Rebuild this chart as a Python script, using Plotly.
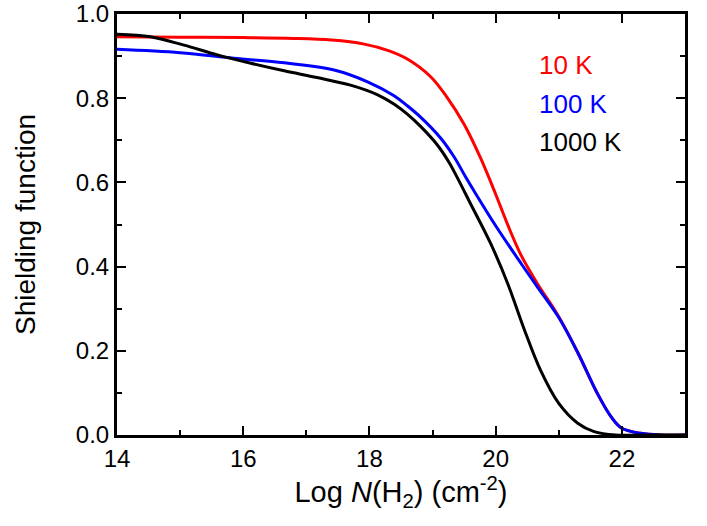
import plotly.graph_objects as go

# 10 K
x_10K = [14, 15, 16, 16.8, 17.4, 17.9, 18.3, 18.6, 18.97, 19.23, 19.5, 19.76, 20.0, 20.2, 20.4,
         20.66, 21.0, 21.3, 21.61, 21.83, 22.0, 22.3, 22.6, 23]
y_10K = [0.946, 0.945, 0.944, 0.942, 0.938, 0.929, 0.913, 0.893, 0.851, 0.802, 0.738, 0.658,
         0.572, 0.496, 0.428, 0.360, 0.281, 0.196, 0.099, 0.043, 0.016, 0.004, 0.0, 0.0]

# 100 K
x_100K = [14, 15, 15.85, 16.65, 17.44, 17.97, 18.39, 18.6, 18.81, 19.13, 19.34, 19.52, 19.66,
          20.0, 20.4, 20.66, 21.0, 21.3, 21.61, 21.83, 22.0, 22.3, 22.6, 23]
y_100K = [0.916, 0.908, 0.895, 0.884, 0.867, 0.839, 0.806, 0.782, 0.755, 0.705, 0.661, 0.614,
          0.579, 0.497, 0.408, 0.352, 0.279, 0.196, 0.099, 0.043, 0.016, 0.004, 0.0, 0.0]

# 1000 K
x_1000K = [14, 14.53, 15.06, 15.59, 16.12, 16.65, 17.17, 17.7, 18.13, 18.4, 18.6, 18.81, 19.07,
           19.26, 19.39, 19.6, 19.92, 20.19, 20.45, 20.71, 21.0, 21.3, 21.56, 21.9, 22.3, 23]
y_1000K = [0.952, 0.946, 0.926, 0.903, 0.883, 0.865, 0.849, 0.831, 0.808, 0.785, 0.762, 0.733,
           0.690, 0.648, 0.612, 0.550, 0.455, 0.360, 0.252, 0.154, 0.075, 0.028, 0.008, 0.0,
           0.0, 0.0]

series = [
    ("10 K", x_10K, y_10K, "#ff0000"),
    ("100 K", x_100K, y_100K, "#0000ff"),
    ("1000 K", x_1000K, y_1000K, "#000000"),
]

FONT = "Liberation Sans"

fig = go.Figure()
for name, xs, ys, col in series:
    fig.add_trace(go.Scatter(x=xs, y=ys, mode="lines", name=name,
                             line=dict(color=col, width=3, shape="spline", smoothing=1.0)))

label_y = [0.878, 0.787, 0.695]
for (name, xs, ys, col), ly in zip(series, label_y):
    fig.add_annotation(x=20.66, y=ly, xref="x", yref="y", text=name, showarrow=False,
                       xanchor="left", yanchor="middle",
                       font=dict(family=FONT, size=26, color=col))

axis_common = dict(showline=True, linewidth=3, linecolor="black", mirror="allticks",
                   ticks="inside", ticklen=9, tickwidth=2, tickcolor="black",
                   showgrid=False, zeroline=False, automargin=False,
                   ticklabeloverflow="allow",
                   tickfont=dict(family=FONT, size=24, color="black"))

fig.update_xaxes(range=[14, 23], dtick=2, tick0=14,
                 minor=dict(dtick=1, ticks="inside", ticklen=5, tickwidth=2, tickcolor="black"),
                 title=dict(text="Log <i>N</i>(H<sub>2</sub>) (cm<sup>-2</sup>)",
                            font=dict(family=FONT, size=29, color="black"), standoff=9),
                 **axis_common)
fig.update_yaxes(range=[0, 1.0], dtick=0.2, tick0=0, tickformat=".1f",
                 minor=dict(dtick=0.1, ticks="inside", ticklen=5, tickwidth=2, tickcolor="black"),
                 title=dict(text="Shielding function",
                            font=dict(family=FONT, size=28, color="black"), standoff=33),
                 **axis_common)

fig.update_layout(width=707, height=526, autosize=False,
                  margin=dict(l=117, r=22, t=14, b=91),
                  plot_bgcolor="white", paper_bgcolor="white",
                  showlegend=False)

fig.write_html("out.html", config={"displayModeBar": False},
               post_script="document.body.style.margin='0';document.body.style.overflow='hidden';")
